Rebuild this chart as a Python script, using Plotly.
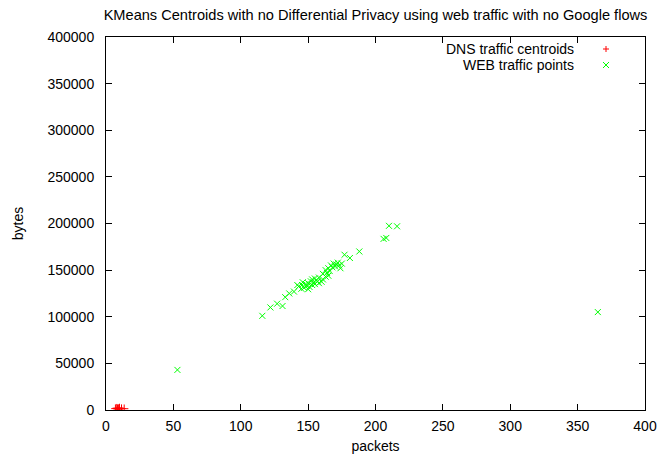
import plotly.graph_objects as go

# DNS traffic centroids (packets, bytes)
dns_packets = [7, 8, 8.5, 9, 9.5, 10, 11.5, 13.5]
dns_bytes = [1500, 2000, 1200, 1800, 1000, 2200, 1500, 1400]

# WEB traffic points (packets, bytes)
web_packets = [116, 122, 127, 131, 133, 136, 139.5, 142, 143, 145.5,
               145, 147, 148, 149, 150, 151, 152, 153, 153, 154,
               155, 155, 156, 157, 158, 158, 150, 146, 160, 161,
               161, 163, 164, 165, 166, 167, 168, 169, 170, 171,
               172, 173, 174, 175, 165, 163,
               177, 181, 188, 206, 208, 210, 216, 365, 53]
web_bytes = [101000, 110000, 114000, 111500, 121000, 125000, 127000, 134000, 132500, 134000,
             130000, 131000, 135000, 133000, 136000, 132000, 138000, 134000, 140000, 137000,
             135000, 141000, 139000, 138000, 136000, 142000, 129500, 137000, 137500, 140000,
             146000, 150000, 147000, 152000, 149000, 155000, 153000, 157000, 154000, 156000,
             158000, 155000, 152000, 157000, 144000, 143000,
             166500, 163000, 170000, 183500, 184500, 197500, 197000, 105000, 43000]

x_ticks = [0, 50, 100, 150, 200, 250, 300, 350, 400]
y_ticks = [0, 50000, 100000, 150000, 200000, 250000, 300000, 350000, 400000]

title_text = "KMeans Centroids with no Differential Privacy using web traffic with no Google flows"
legend_labels = ["DNS traffic centroids", "WEB traffic points"]

FONT = "Liberation Sans"
FS = 14

fig = go.Figure()
fig.add_trace(go.Scatter(
    x=dns_packets, y=dns_bytes, mode="markers", name=legend_labels[0],
    marker=dict(symbol="cross-thin", size=6, line=dict(color="#ff0000", width=1), color="#ff0000"),
    showlegend=False,
))
fig.add_trace(go.Scatter(
    x=web_packets, y=web_bytes, mode="markers", name=legend_labels[1],
    marker=dict(symbol="x-thin", size=6, line=dict(color="#00ff00", width=1), color="#00ff00"),
    showlegend=False,
))

W, H = 659, 459
L, R, T, B = 106, 14, 37, 49
pw, ph = W - L - R, H - T - B

def px(xp):
    return (xp - L) / pw

def py(yp):
    return 1 - (yp - T) / ph

annotations = []
shapes = []
rows = [49, 65]
colors = ["#ff0000", "#00ff00"]
for i, lab in enumerate(legend_labels):
    annotations.append(dict(
        x=px(576), y=py(rows[i]), xref="paper", yref="paper",
        text=lab, showarrow=False, xanchor="right", yanchor="middle",
        font=dict(family=FONT, size=FS, color="black"),
    ))
mx = 606
hs = 3
# legend symbol for DNS: plus
shapes.append(dict(type="line", xref="paper", yref="paper",
                   x0=px(mx - hs), x1=px(mx + hs), y0=py(rows[0]), y1=py(rows[0]),
                   line=dict(color=colors[0], width=1)))
shapes.append(dict(type="line", xref="paper", yref="paper",
                   x0=px(mx), x1=px(mx), y0=py(rows[0] - hs), y1=py(rows[0] + hs),
                   line=dict(color=colors[0], width=1)))
# legend symbol for WEB: x
shapes.append(dict(type="line", xref="paper", yref="paper",
                   x0=px(mx - hs), x1=px(mx + hs), y0=py(rows[1] - hs), y1=py(rows[1] + hs),
                   line=dict(color=colors[1], width=1)))
shapes.append(dict(type="line", xref="paper", yref="paper",
                   x0=px(mx - hs), x1=px(mx + hs), y0=py(rows[1] + hs), y1=py(rows[1] - hs),
                   line=dict(color=colors[1], width=1)))

axis_common = dict(
    showgrid=False, zeroline=False, showline=True, linecolor="black", linewidth=1,
    mirror="allticks", ticks="inside", ticklen=6, tickcolor="black", tickwidth=1,
    tickfont=dict(family=FONT, size=FS, color="black"),
)

fig.update_layout(
    width=W, height=H,
    margin=dict(l=L, r=R, t=T, b=B, pad=0, autoexpand=False),
    paper_bgcolor="white", plot_bgcolor="white",
    title=dict(text=title_text, x=0.5, xref="paper", xanchor="center",
               y=1 - 15 / H, yanchor="middle", yref="container",
               font=dict(family=FONT, size=14.6, color="black")),
    xaxis=dict(range=[0, 400], tickvals=x_ticks, ticktext=[str(v) for v in x_ticks],
               title=dict(text="packets", standoff=8, font=dict(family=FONT, size=FS, color="black")),
               ticklabelstandoff=3, automargin=False, **axis_common),
    yaxis=dict(range=[0, 400000], tickvals=y_ticks, ticktext=[str(v) for v in y_ticks],
               title=dict(text="bytes", standoff=20, font=dict(family=FONT, size=FS, color="black")),
               ticklabelstandoff=8, automargin=False, **axis_common),
    annotations=annotations,
    shapes=shapes,
    showlegend=False,
)

fig.write_html(
    "out.html",
    config={"displayModeBar": False},
    post_script="document.body.style.margin='0';document.body.style.overflow='hidden';",
)
